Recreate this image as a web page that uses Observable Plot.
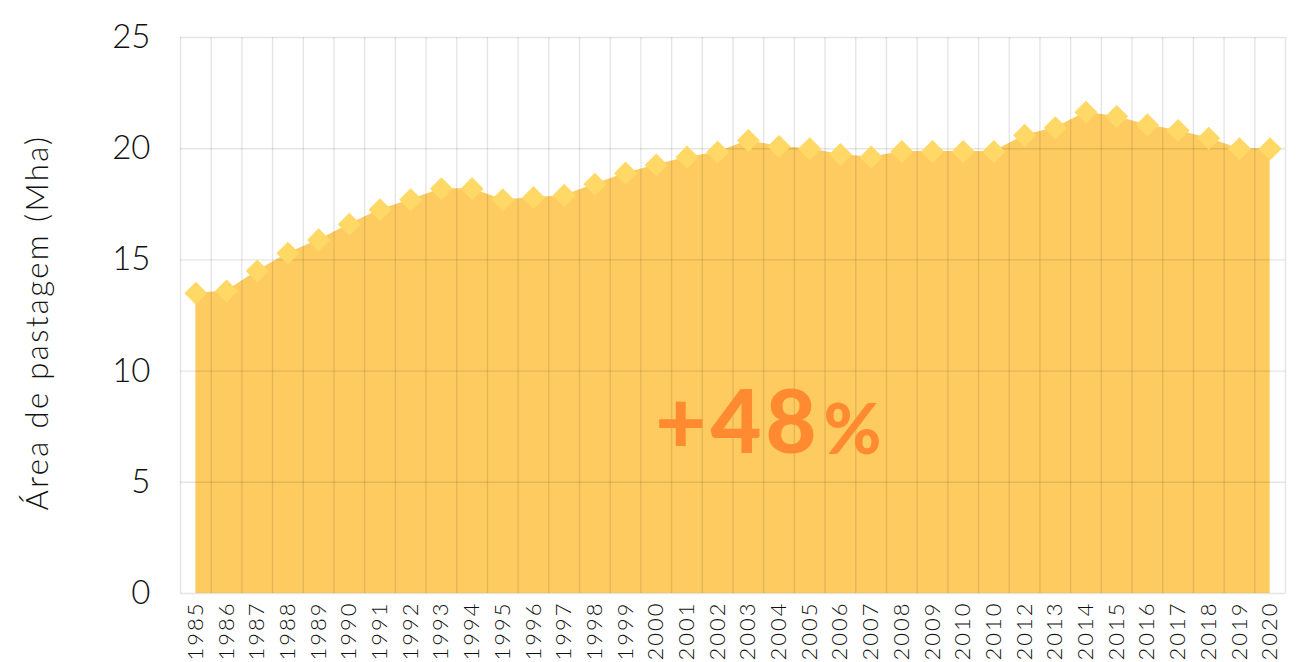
<!DOCTYPE html>
<html><head><meta charset="utf-8">
<script src="https://cdn.jsdelivr.net/npm/d3@7"></script>
<script src="https://cdn.jsdelivr.net/npm/@observablehq/plot@0.6"></script>
<style>body{margin:0;background:#fff}</style>
</head><body><div id="chart"></div>
<script>
const years = [1985,1986,1987,1988,1989,1990,1991,1992,1993,1994,1995,1996,1997,1998,1999,2000,2001,2002,2003,2004,2005,2006,2007,2008,2009,2010,2011,2012,2013,2014,2015,2016,2017,2018,2019,2020];
const yearLabels = ["1985","1986","1987","1988","1989","1990","1991","1992","1993","1994","1995","1996","1997","1998","1999","2000","2001","2002","2003","2004","2005","2006","2007","2008","2009","2010","2010","2012","2013","2014","2015","2016","2017","2018","2019","2020"];
const pasture = [13.5,13.6,14.5,15.3,15.9,16.6,17.25,17.7,18.2,18.2,17.7,17.8,17.9,18.4,18.9,19.27,19.62,19.84,20.37,20.1,20.0,19.74,19.62,19.87,19.87,19.87,19.87,20.6,20.94,21.64,21.45,21.07,20.82,20.47,20.0,20.0];
const yTicks = [0,5,10,15,20,25];
const yLabel = "Área de pastagem (Mha)";
const growthValue = "+48";
const growthUnit = "%";

const data = years.map((year, i) => ({year, value: pasture[i], label: yearLabels[i]}));
const bandEdges = years.map(y => y - 0.5).concat([years[years.length - 1] + 0.5]);
const font = "Lato, 'Open Sans', sans-serif";

const chart = Plot.plot({
  width: 1309, height: 662,
  marginTop: 37, marginBottom: 69, marginLeft: 180, marginRight: 24,
  style: {fontFamily: font, background: "#fff", color: "#111"},
  x: {domain: [1984.5, 2020.5]},
  y: {domain: [0, 25]},
  marks: [
    Plot.areaY(data, {x: "year", y: "value", fill: "#fdcb60"}),
    Plot.ruleY(yTicks, {stroke: "#000", strokeOpacity: 0.1, strokeWidth: 1.4}),
    Plot.ruleX(bandEdges, {stroke: "#000", strokeOpacity: 0.1, strokeWidth: 1.4}),
    Plot.dot(data, {x: "year", y: "value", symbol: "diamond2", r: 10.4, fill: "#ffd866"}),
    Plot.axisY(yTicks, {tickSize: 0, tickPadding: 30, fontSize: 33, fontWeight: 300, label: null, tickFormat: d => String(d)}),
    Plot.axisX(years, {tickSize: 0, tickPadding: 8, tickRotate: -90, fontSize: 22, fontWeight: 300, label: null, tickFormat: d => yearLabels[years.indexOf(d)]}),
    Plot.text([yLabel], {frameAnchor: "left", dx: -142, dy: 7, rotate: -90, textAnchor: "middle", fontSize: 31, fontWeight: 300, fill: "#111"}),
    Plot.text([growthValue], {x: [2005.35], y: [7.6], textAnchor: "end", fontSize: 88, fontWeight: 900, fill: "#ff8a30"}),
    Plot.text([growthUnit], {x: [2005.45], y: [7.3], textAnchor: "start", fontSize: 70, fontWeight: 900, fill: "#ff8a30"})
  ]
});
const svg = d3.select(chart);
svg.selectAll('g[aria-label="x-axis tick label"] text').style("letter-spacing", "2px");
svg.selectAll("text").filter(function () { return this.textContent === yLabel; }).style("letter-spacing", "2.4px");
svg.selectAll("text").filter(function () { return this.textContent === growthValue; }).style("letter-spacing", "4px");
document.getElementById("chart").appendChild(chart);
</script>
</body></html>
